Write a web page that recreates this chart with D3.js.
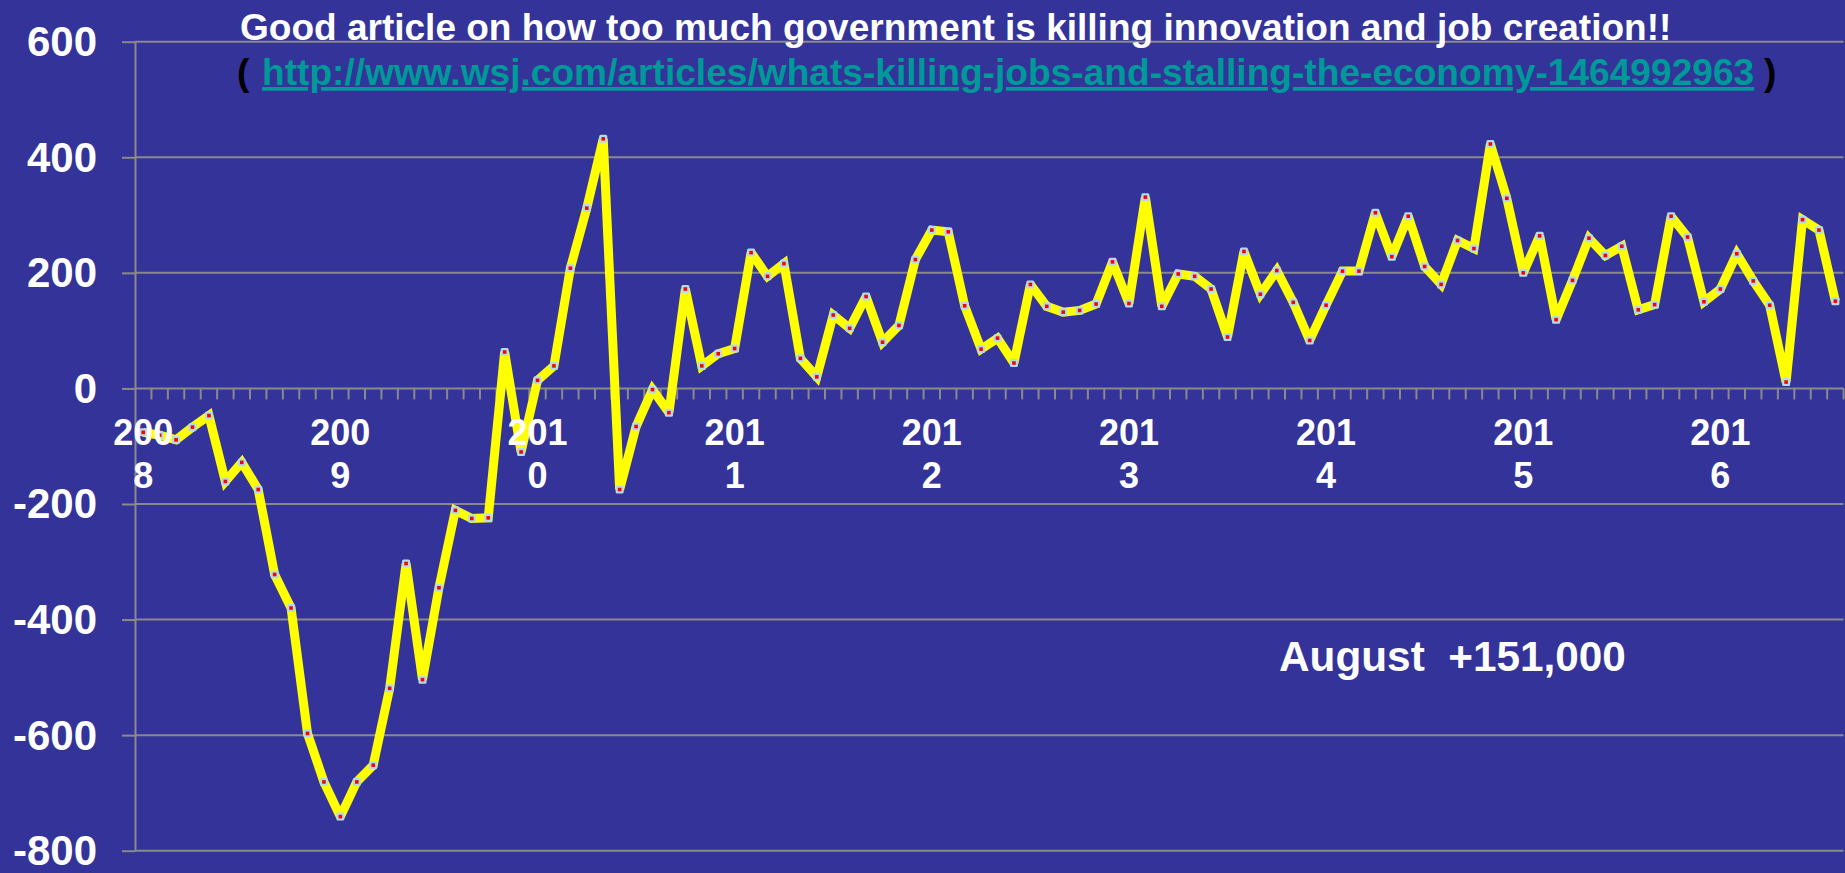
<!DOCTYPE html>
<html><head><meta charset="utf-8">
<script src="https://cdn.jsdelivr.net/npm/d3@7"></script>
<style>html,body{margin:0;padding:0;background:#333399;overflow:hidden}</style>
</head><body>
<svg id="c" width="1845" height="873"></svg>
<script>
// ---- data ----
const years = ["2008","2009","2010","2011","2012","2013","2014","2015","2016"];
const monthNames = ["Jan","Feb","Mar","Apr","May","Jun","Jul","Aug","Sep","Oct","Nov","Dec"];
const jobs2008 = [-76, -81, -89, -67, -47, -161, -128, -175, -322, -380, -597, -681];
const jobs2009 = [-741, -681, -652, -519, -303, -504, -345, -211, -225, -224, 63, -110];
const jobs2010 = [14, 39, 208, 312, 432, -175, -66, -2, -42, 172, 39, 60];
const jobs2011 = [69, 235, 194, 216, 52, 20, 127, 104, 159, 80, 109, 223];
const jobs2012 = [274, 271, 143, 68, 87, 44, 180, 142, 132, 135, 146, 219];
const jobs2013 = [147, 331, 142, 198, 194, 172, 89, 237, 163, 204, 149, 83];
const jobs2014 = [144, 203, 203, 304, 228, 298, 211, 180, 256, 242, 423, 329];
const jobs2015 = [200, 264, 119, 187, 260, 230, 246, 136, 145, 298, 262, 150];
const jobs2016 = [172, 233, 186, 144, 11, 292, 274, 151];
const yTicks = [600, 400, 200, 0, -200, -400, -600, -800];
const titleText = "Good article on how too much government is killing innovation and job creation!!";
const urlText = "http://www.wsj.com/articles/whats-killing-jobs-and-stalling-the-economy-1464992963";
const noteText = "August\u00a0\u00a0+151,000";

const jobs = [].concat(jobs2008, jobs2009, jobs2010, jobs2011, jobs2012, jobs2013, jobs2014, jobs2015, jobs2016);
const categories = jobs.map((v, i) => years[Math.floor(i / 12)] + "-" + monthNames[i % 12]);
const data = categories.map((c, i) => ({cat: c, v: jobs[i]}));

// ---- layout ----
const FONT = "'Liberation Sans', Arial, Helvetica, sans-serif";
const svg = d3.select("#c");
svg.append("rect").attr("width", 1845).attr("height", 873).attr("fill", "#333399");

const x = d3.scaleBand().domain(categories).range([135, 1843.6]).padding(0);
const y = d3.scaleLinear().domain([-800, 600]).range([850.7, 41.7]);
const GRID = "#8a8a8a";

// gridlines
svg.append("g").selectAll("line").data(yTicks).join("line")
  .attr("x1", 135).attr("x2", 1843.6)
  .attr("y1", d => y(d)).attr("y2", d => y(d))
  .attr("stroke", GRID).attr("stroke-width", 2);

// y axis
const yAxis = svg.append("g").attr("transform", "translate(135,0)")
  .call(d3.axisLeft(y).tickValues(yTicks).tickSizeInner(13).tickSizeOuter(0).tickPadding(25).tickFormat(d => String(d)));
yAxis.select(".domain").attr("stroke", GRID).attr("stroke-width", 2);
yAxis.selectAll(".tick line").attr("stroke", GRID).attr("stroke-width", 2);
yAxis.selectAll(".tick text").attr("fill", "#fff").attr("font-family", FONT)
  .attr("font-weight", "bold").attr("font-size", 42).attr("dy", "0.33em");

// x axis month ticks (at category boundaries)
const bw = x.bandwidth();
svg.append("g").selectAll("line").data(categories).join("line")
  .attr("x1", d => x(d) + bw).attr("x2", d => x(d) + bw)
  .attr("y1", y(0)).attr("y2", y(0) + 11)
  .attr("stroke", GRID).attr("stroke-width", 2);

// series line
const line = d3.line().x(d => x(d.cat) + bw / 2).y(d => y(d.v));
svg.append("path").datum(data).attr("d", line)
  .attr("fill", "none").attr("stroke", "#ffff00").attr("stroke-width", 9)
  .attr("stroke-linejoin", "miter").attr("stroke-miterlimit", 2.2);

// markers
const mk = svg.append("g");
mk.selectAll("rect.o").data(data).join("rect").attr("class", "o")
  .attr("x", d => x(d.cat) + bw / 2 - 4).attr("y", d => y(d.v) - 4)
  .attr("width", 8).attr("height", 8).attr("rx", 1.5).attr("fill", "#b4dbe8");
mk.selectAll("rect.i").data(data).join("rect").attr("class", "i")
  .attr("x", d => x(d.cat) + bw / 2 - 1.8).attr("y", d => y(d.v) - 1.8)
  .attr("width", 3.6).attr("height", 3.6).attr("fill", "#ff0000");

// year labels (wrapped like the original: "200" / "8")
const yl = svg.append("g").selectAll("text")
  .data(categories.filter((c, i) => i % 12 === 0)).join("text")
  .attr("x", d => x(d) + bw / 2).attr("y", 445)
  .attr("text-anchor", "middle").attr("fill", "#fff")
  .attr("font-family", FONT).attr("font-weight", "bold").attr("font-size", 36);
yl.append("tspan").attr("x", d => x(d) + bw / 2).text(d => d.slice(0, 3));
yl.append("tspan").attr("x", d => x(d) + bw / 2).attr("dy", 43).text(d => d.slice(3, 4));

// fit helper
function fit(sel, target) {
  const w = sel.node().getComputedTextLength();
  const fs = +sel.attr("font-size");
  sel.attr("font-size", fs * target / w);
}

// title
const t = svg.append("text").attr("x", 240).attr("y", 40).attr("fill", "#fff")
  .attr("font-family", FONT).attr("font-weight", "bold").attr("font-size", 34).text(titleText);
fit(t, 1432);

// url line
const u = svg.append("text").attr("x", 262).attr("y", 85).attr("fill", "#009999")
  .attr("font-family", FONT).attr("font-weight", "bold").attr("font-size", 33)
  .attr("text-decoration", "underline").text(urlText);
fit(u, 1493);
const ufs = u.attr("font-size");
svg.append("text").attr("x", 237).attr("y", 85).attr("fill", "#000")
  .attr("font-family", FONT).attr("font-weight", "bold").attr("font-size", ufs).text("(");
svg.append("text").attr("x", 1764).attr("y", 85).attr("fill", "#000")
  .attr("font-family", FONT).attr("font-weight", "bold").attr("font-size", ufs).text(")");

// note
const n = svg.append("text").attr("x", 1279).attr("y", 671).attr("fill", "#fff")
  .attr("font-family", FONT).attr("font-weight", "bold").attr("font-size", 42).text(noteText);
fit(n, 347);
</script>
</body></html>
